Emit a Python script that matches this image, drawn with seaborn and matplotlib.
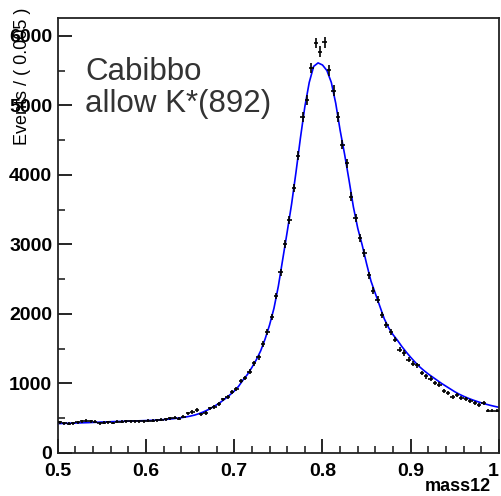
import numpy as np
import pandas as pd
import matplotlib
matplotlib.use("Agg")
import matplotlib.pyplot as plt
import seaborn as sns

# ---- data ----
bin_width = 0.005
bin_centers = [round(0.5025 + i * bin_width, 4) for i in range(100)]
counts = [
    445, 430, 420, 425, 440, 460, 462, 458, 450, 425,
    435, 445, 432, 448, 452, 455, 455, 460, 455, 458,
    462, 465, 472, 480, 485, 500, 505, 495, 520,
    571, 590, 619, 557, 575, 640, 660, 705, 770, 800,
    880, 920, 1036, 1080, 1170, 1290, 1377, 1568, 1745, 1950,
    2259, 2600, 3010, 3353, 3809, 4273, 4830, 5079, 5535, 5895,
    5774, 5904, 5501, 5213, 4830, 4432, 4168, 3688, 3377, 3089,
    2878, 2557, 2336, 2206, 1990, 1838, 1741, 1631, 1487, 1439,
    1343, 1281, 1262, 1151, 1104, 1069, 1007, 983, 897, 863,
    801, 839, 791, 781, 744, 719, 686, 719, 609, 609, 609,
]

fit_x = [round(0.5 + i * 0.005, 3) for i in range(101)]
fit_y = [
    422, 425, 427, 429, 431, 433, 435, 437, 440, 442,
    445, 447, 450, 452, 454, 456, 458, 460, 462, 464,
    466, 469, 472, 476, 480, 486, 492, 500, 508, 518,
    530, 545, 565, 590, 620, 655, 692, 735, 783, 835,
    890, 960, 1050, 1130, 1230, 1340, 1470, 1640, 1840, 2080,
    2400, 2790, 3180, 3580, 4040, 4530, 4980, 5330, 5560, 5610,
    5580, 5500, 5330, 5030, 4640, 4300, 3930, 3540, 3230, 2990,
    2720, 2470, 2290, 2110, 1930, 1800, 1700, 1620, 1530, 1450,
    1375, 1305, 1240, 1185, 1135, 1090, 1045, 1000, 960, 920,
    880, 845, 815, 788, 764, 742, 721, 703, 686, 671, 657,
]

x_ticks = [0.5, 0.6, 0.7, 0.8, 0.9, 1.0]
x_ticklabels = ["0.5", "0.6", "0.7", "0.8", "0.9", "1"]
y_ticks = [0, 1000, 2000, 3000, 4000, 5000, 6000]
y_ticklabels = ["0", "1000", "2000", "3000", "4000", "5000", "6000"]

# ---- plot ----
sns.set_style("ticks")
plt.rcParams["font.family"] = ["Liberation Sans", "DejaVu Sans"]

fig = plt.figure(figsize=(5.02, 4.96), dpi=100)
ax = fig.add_axes([0.115, 0.0867, 0.879, 0.8776])

pts = pd.DataFrame({"x": bin_centers, "y": counts})
pts["err"] = np.sqrt(pts["y"])
fit = pd.DataFrame({"x": fit_x, "y": fit_y})

sns.lineplot(data=fit, x="x", y="y", ax=ax, color="#0000ff", linewidth=1.2, zorder=2)
ax.errorbar(pts["x"], pts["y"], yerr=pts["err"], xerr=bin_width / 2,
            fmt="none", ecolor="black", elinewidth=1.2, zorder=3)

ax.set_xlim(0.5, 1.0)
ax.set_ylim(0, 6260)

ax.set_xticks(x_ticks)
ax.set_xticklabels(x_ticklabels)
ax.set_yticks(y_ticks)
ax.set_yticklabels(y_ticklabels)
ax.set_xticks(np.arange(0.52, 1.0, 0.02), minor=True)
ax.set_yticks(np.arange(500, 6260, 1000), minor=True)

for lab in ax.get_xticklabels() + ax.get_yticklabels():
    lab.set_fontweight("bold")
ax.get_xticklabels()[-1].set_horizontalalignment("right")
ax.tick_params(axis="both", which="major", direction="in", length=10, width=1.2,
               labelsize=14, colors="black", top=False, right=False)
ax.tick_params(axis="both", which="minor", direction="in", length=5, width=1.2,
               top=False, right=False)
ax.tick_params(axis="x", which="major", pad=7)
ax.tick_params(axis="y", which="major", pad=4)

for s in ax.spines.values():
    s.set_linewidth(1.3)
    s.set_color("#222222")

ax.set_xlabel("")
ax.set_ylabel("")
fig.text(0.977, 0.002, "mass12", ha="right", va="bottom", fontsize=13,
         fontweight="bold", color="black")
fig.text(0.044, 0.985, "Events / ( 0.005 )", rotation=90, ha="center", va="top",
         fontsize=13, color="black")

ax.text(0.062, 0.91, "Cabibbo\nallow K*(892)", transform=ax.transAxes,
        ha="left", va="top", fontsize=22.5, color="#333333", linespacing=1.1)

fig.savefig("out.png", dpi=100)
